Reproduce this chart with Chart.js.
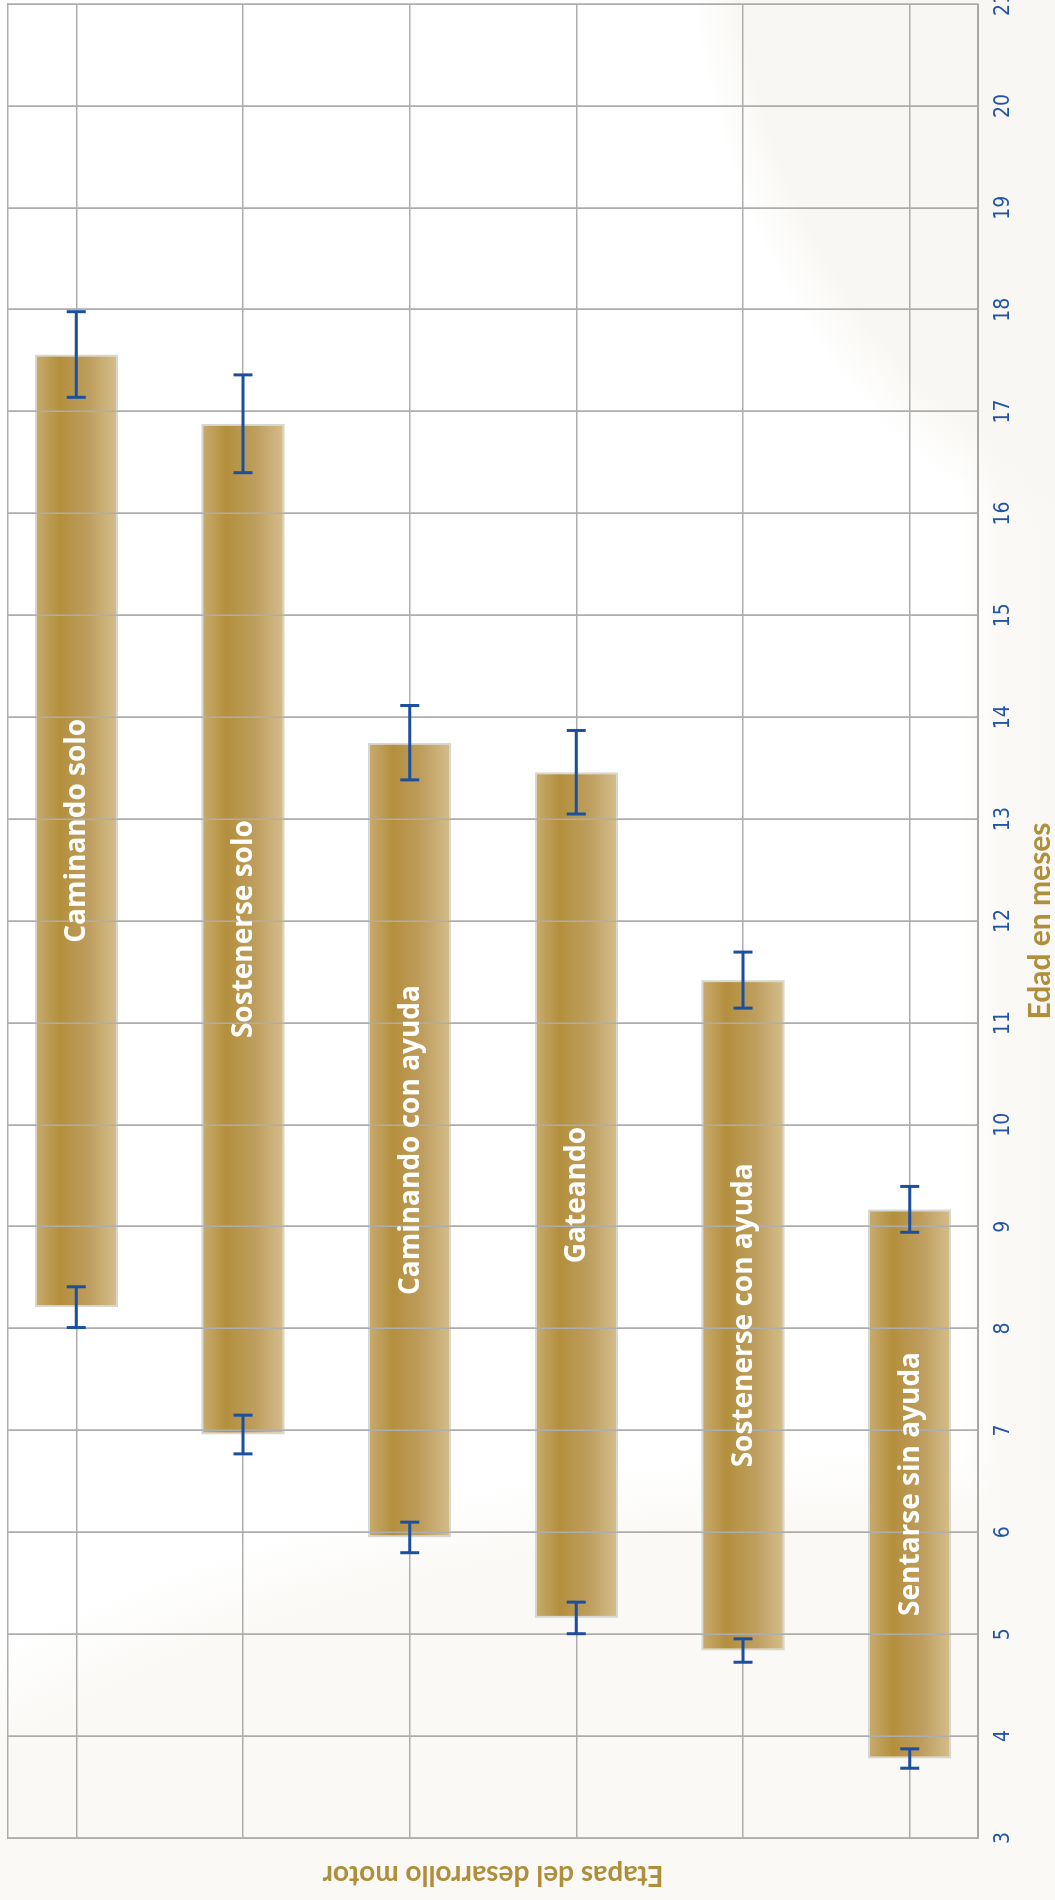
<!DOCTYPE html>
<html>
<head>
<meta charset="utf-8">
<script src="https://cdn.jsdelivr.net/npm/chart.js@4.4.0/dist/chart.umd.min.js"></script>
<style>
html, body { margin: 0; padding: 0; }
body {
  width: 1055px; height: 1900px; overflow: hidden; position: relative;
  background:
    radial-gradient(ellipse 470px 700px at 1150px -150px, #F8F7F3 0%, #F8F7F3 90%, rgba(248,247,243,0) 100%),
    radial-gradient(ellipse 1300px 700px at 900px 2150px, #FAF9F6 0%, #FAF9F6 90%, rgba(250,249,246,0) 100%),
    linear-gradient(to right, #FFFFFF 0px, #FFFFFF 960px, #FAF9F6 1000px, #F9F8F5 1055px);
}
#wrap {
  position: absolute; left: 0; top: 0; width: 1900px; height: 1055px;
  transform-origin: 0 0; transform: translateY(1900px) rotate(-90deg);
}
</style>
</head>
<body>
<div id="wrap"><canvas id="c" width="1900" height="1055"></canvas></div>
<script>
// ---- data ----
const stages = ['Caminando solo', 'Sostenerse solo', 'Caminando con ayuda', 'Gateando', 'Sostenerse con ayuda', 'Sentarse sin ayuda'];
const startAge = [8.21, 6.96, 5.95, 5.16, 4.84, 3.78];
const endAge   = [17.56, 16.88, 13.75, 13.46, 11.42, 9.17];
const startErr = [0.20, 0.19, 0.15, 0.155, 0.115, 0.095];
const endErr   = [0.42, 0.48, 0.365, 0.41, 0.275, 0.225];
const ageMin = 3, ageMax = 21, ageStep = 1;
const stageMin = -0.41, stageMax = 5.41;

const GOLD_TEXT = '#B08F3C';
const TICK_BLUE = '#2254A6';
const ERR_BLUE = '#1D4F9F';
const GRID = '#ADADAD';

const barGradient = {
  id: 'barGradient',
  beforeDatasetsDraw(chart) {
    const ctx = chart.ctx;
    chart.getDatasetMeta(0).data.forEach(el => {
      const top = el.y - el.height / 2;
      const g = ctx.createLinearGradient(0, top, 0, top + el.height);
      g.addColorStop(0, '#C9AC70');
      g.addColorStop(0.3, '#B38F3D');
      g.addColorStop(0.65, '#BE9E5E');
      g.addColorStop(1, '#D5BE8D');
      el.options = Object.assign({}, el.options, { backgroundColor: g });
    });
  }
};

const overlay = {
  id: 'overlay',
  afterDatasetsDraw(chart) {
    const ctx = chart.ctx;
    const xs = chart.scales.x;
    // age grid lines are drawn over the bars
    xs.drawGrid(chart.chartArea);
    const meta = chart.getDatasetMeta(0);
    ctx.save();
    ctx.strokeStyle = ERR_BLUE;
    ctx.lineWidth = 3;
    const cap = 9.5;
    meta.data.forEach((el, i) => {
      const y = el.y;
      [[startAge[i], startErr[i]], [endAge[i], endErr[i]]].forEach(([v, e]) => {
        const x1 = xs.getPixelForValue(v - e);
        const x2 = xs.getPixelForValue(v + e);
        ctx.beginPath();
        ctx.moveTo(x1, y); ctx.lineTo(x2, y);
        ctx.moveTo(x1, y - cap); ctx.lineTo(x1, y + cap);
        ctx.moveTo(x2, y - cap); ctx.lineTo(x2, y + cap);
        ctx.stroke();
      });
    });
    ctx.fillStyle = '#FFFFFF';
    ctx.font = 'bold 28px "Open Sans", Lato, sans-serif';
    ctx.textAlign = 'center';
    ctx.textBaseline = 'middle';
    meta.data.forEach((el, i) => {
      const x = xs.getPixelForValue((startAge[i] + endAge[i]) / 2);
      ctx.fillText(stages[i], x, el.y + 1);
    });
    ctx.restore();
  }
};

new Chart(document.getElementById('c'), {
  type: 'bar',
  data: {
    datasets: [{
      data: stages.map((s, i) => ({ x: [startAge[i], endAge[i]], y: i })),
      xAxisID: 'x',
      yAxisID: 'y',
      backgroundColor: '#B8964A',
      borderColor: '#D4D9D3',
      borderWidth: 2,
      borderSkipped: false,
      barPercentage: 0.5,
      categoryPercentage: 1
    }]
  },
  plugins: [barGradient, overlay],
  options: {
    indexAxis: 'y',
    responsive: false,
    animation: false,
    layout: { padding: { top: 8, right: 4, left: 0, bottom: 0 } },
    plugins: { legend: { display: false }, tooltip: { enabled: false } },
    scales: {
      x: {
        type: 'linear', position: 'bottom', min: ageMin, max: ageMax,
        ticks: {
          stepSize: ageStep, padding: 13, color: TICK_BLUE, maxRotation: 0,
          font: { family: "'Liberation Sans Narrow', 'DejaVu Sans Condensed', sans-serif", size: 21 }
        },
        grid: { color: GRID, lineWidth: 1.5, drawTicks: false },
        border: { color: '#A8A8A8', width: 2 },
        title: {
          display: true, text: 'Edad en meses', color: GOLD_TEXT, padding: 0,
          font: { family: 'Lato', weight: 'bold', size: 30, lineHeight: 1 }
        },
        afterFit(s) { s.height = 77; s.paddingLeft = 0; s.paddingRight = 0; }
      },
      xTop: {
        type: 'linear', position: 'top', min: ageMin, max: ageMax,
        ticks: { display: false },
        grid: { display: false, drawTicks: false },
        border: { display: true, color: GRID, width: 1.5 },
        afterFit(s) { s.height = 0; s.paddingLeft = 0; s.paddingRight = 0; }
      },
      y: {
        type: 'linear', position: 'left', min: stageMin, max: stageMax, reverse: true,
        offset: false,
        ticks: { display: false },
        afterBuildTicks(s) { s.ticks = stages.map((_, i) => ({ value: i })); },
        grid: { color: GRID, lineWidth: 1.5, drawTicks: false, offset: false },
        border: { color: GRID, width: 1.5 },
        title: {
          display: true, text: 'Etapas del desarrollo motor', color: GOLD_TEXT,
          padding: { top: 11, bottom: 0 },
          font: { family: 'Lato', weight: 'bold', size: 28, lineHeight: 1 }
        },
        afterFit(s) { s.width = 62; }
      }
    }
  }
});
</script>
</body>
</html>
